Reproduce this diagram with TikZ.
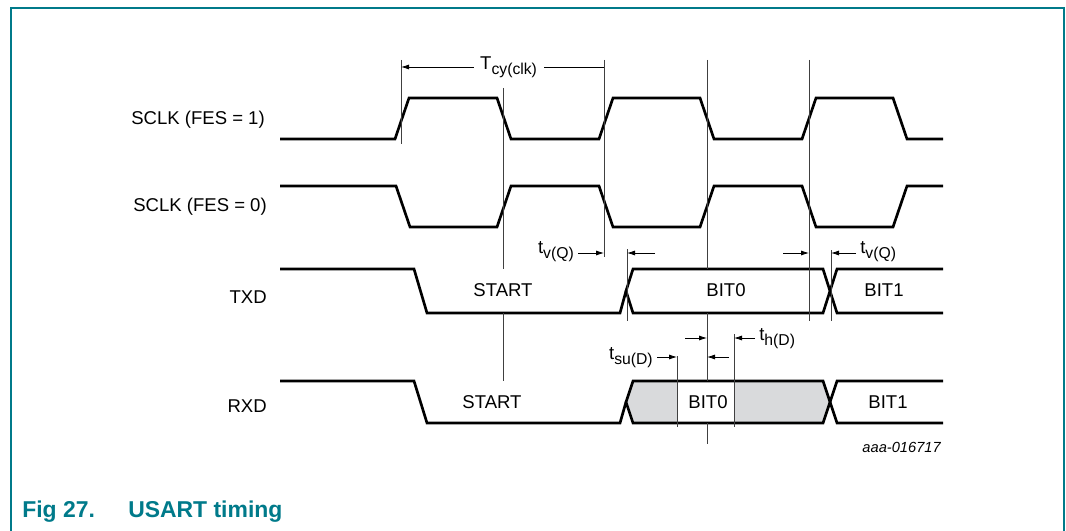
\documentclass[tikz,border=0pt]{standalone}
\usepackage{fontspec}
\setmainfont{Liberation Sans}
\usetikzlibrary{arrows.meta}
\definecolor{figteal}{RGB}{0,122,138}
\definecolor{holdgray}{RGB}{217,218,220}
\newcommand{\lowsub}[1]{\raisebox{-0.5ex}{\fontsize{11.8}{12}\selectfont #1}}
\tikzset{
wave/.style={line width=2pt, line join=miter}, % the signal traces
guide/.style={line width=0.6pt, black!75}, % thin reference lines
dim/.style={line width=0.6pt, -{Latex[length=6pt,width=3.8pt]}}, % timing arrows
sig/.style={font=\fontsize{13.9}{16}\selectfont, inner sep=0pt}, % all plain labels
}

\begin{document}
\begin{tikzpicture}[
  x=0.75pt, y=-0.75pt,
  hold/.style={fill=holdgray},
  caption/.style={font=\bfseries\fontsize{17.2}{20}\selectfont, text=figteal, anchor=base west}
]
  \useasboundingbox (0,0) rectangle (1066,531);
  \draw[figteal, line width=1.5pt] (10.7,531) -- (10.7,8) -- (1064,8) -- (1064,531);

  % signal names
  \node[sig, anchor=east] (sclk1) at (265,120) {SCLK (FES = 1)};
  \node[sig, anchor=east] (sclk0) at (267,207) {SCLK (FES = 0)};
  \node[sig, anchor=east] (txd) at (267,297) {TXD};
  \node[sig, anchor=east] (rxd) at (267,406) {RXD};

  % clocks
  \draw[wave] (280,139) -- (395,139) -- (409,98) -- (497,98) -- (511,139) -- (599,139)
    -- (613,98) -- (700,98) -- (714,139) -- (802,139) -- (816,98) -- (893,98)
    -- (907,139) -- (943,139);
  \draw[wave] (280,186) -- (396,186) -- (410,227) -- (497,227) -- (511,186) -- (599,186)
    -- (613,227) -- (700,227) -- (714,186) -- (802,186) -- (816,227) -- (893,227)
    -- (907,186) -- (943,186);

  % data lines
  \fill[hold] (626,402) -- (633,381) -- (823,381) -- (830,402) -- (823,423) -- (633,423) -- cycle;
  \fill[white] (677,381) rectangle (734,423);
  \foreach \m/\h in {291/22, 402/21} {
    \draw[wave] (280,{\m-\h}) -- (414,{\m-\h}) -- (427,{\m+\h}) -- (620,{\m+\h}) -- (626,\m);
    \draw[wave] (626,\m) -- (633,{\m-\h}) -- (823,{\m-\h}) -- (830,\m) -- (823,{\m+\h})
      -- (633,{\m+\h}) -- cycle;
    \draw[wave] (943,{\m-\h}) -- (837,{\m-\h}) -- (830,\m) -- (837,{\m+\h}) -- (943,{\m+\h});
  }
  \node[sig] (txd-start) at (503,290) {START};
  \node[sig] (txd-bit0) at (726,290) {BIT0};
  \node[sig] (txd-bit1) at (884,290) {BIT1};
  \node[sig] (rxd-start) at (492,402) {START};
  \node[sig] (rxd-bit0) at (708,402) {BIT0};
  \node[sig] (rxd-bit1) at (888,402) {BIT1};

  % reference lines
  \foreach \n/\x/\ya/\yb in {ra/401/60/144, rb/503/88/269, rc/503/313/381, rd/604/60/257,
      re/707/60/269, rf/707/313/381, rg/707/423/444, rh/809/60/321, ri/627/249/321,
      rj/831/250/321, rk/677/356/427, rl/734/334/427} {
    \coordinate (\n-t) at (\x,\ya);
    \coordinate (\n-b) at (\x,\yb);
    \draw[guide] (\n-t) -- (\n-b);
  }

  % timing arrows
  \coordinate (cy-l) at (401,67);
  \coordinate (cy-r) at (604,67);
  \draw[dim, {Latex[length=6pt,width=3.8pt]}-] (cy-l) -- node[sig, pos=0.53, fill=white, inner xsep=5pt] (tcy) {T\lowsub{cy(clk)}} (cy-r);

  \node[sig, anchor=east] (tvq-a) at (574,252) {t\lowsub{v(Q)}};
  \coordinate (tvq-a-to) at (604,253);
  \draw[dim] ([xshift=3pt]tvq-a.east |- tvq-a-to) -- (tvq-a-to);
  \coordinate (bit0-from) at (655,253);
  \coordinate (bit0-to) at (627,253);
  \draw[dim] (bit0-from) -- (bit0-to);
  \coordinate (bit1-from) at (783,253);
  \coordinate (bit1-to) at (809,253);
  \draw[dim] (bit1-from) -- (bit1-to);
  \node[sig, anchor=west] (tvq-b) at (860,252) {t\lowsub{v(Q)}};
  \coordinate (tvq-b-to) at (831,253);
  \draw[dim] ([xshift=-3pt]tvq-b.west |- tvq-b-to) -- (tvq-b-to);

  \coordinate (hd-from) at (685,338);
  \coordinate (hd-to) at (707,338);
  \draw[dim] (hd-from) -- (hd-to);
  \node[sig, anchor=west] (thd) at (759,339) {t\lowsub{h(D)}};
  \coordinate (thd-to) at (734,338);
  \draw[dim] ([xshift=-3pt]thd.west |- thd-to) -- (thd-to);

  \node[sig, anchor=east] (tsud) at (653,358) {t\lowsub{su(D)}};
  \coordinate (tsud-to) at (677,357);
  \draw[dim] ([xshift=3pt]tsud.east |- tsud-to) -- (tsud-to);
  \coordinate (su-from) at (729,357);
  \coordinate (su-to) at (707,357);
  \draw[dim] (su-from) -- (su-to);

  \node[font=\itshape\fontsize{11}{13}\selectfont, inner sep=0pt, anchor=east] (code) at (941,447) {aaa-016717};

  % caption
  \node[caption, inner sep=0pt] (cap-num) at (22,517) {Fig 27.};
  \node[caption, inner sep=0pt] (cap-title) at (128,517) {USART timing};
\end{tikzpicture}
\end{document}
